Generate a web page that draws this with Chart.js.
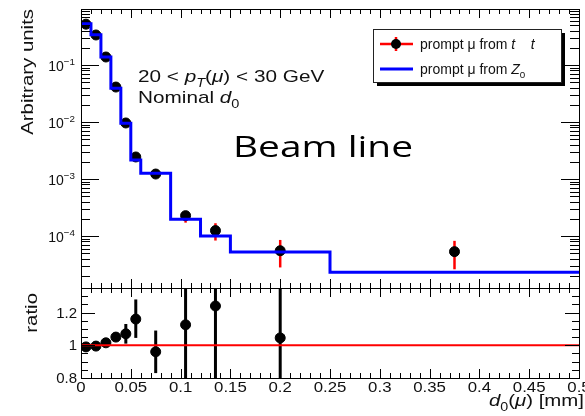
<!DOCTYPE html>
<html>
<head>
<meta charset="utf-8">
<title>d0 prompt muons</title>
<script src="https://cdn.jsdelivr.net/npm/chart.js@4.4.1/dist/chart.umd.min.js"></script>
<style>
  html, body { margin: 0; padding: 0; background: #fff; }
  #wrap { position: relative; width: 585px; height: 416px; }
  #wrap canvas { position: absolute; left: 0; top: 0; }
</style>
</head>
<body>
<div id="wrap">
  <canvas id="topPanel" width="585" height="416"></canvas>
  <canvas id="ratioPanel" width="585" height="416"></canvas>
</div>
<script>
// bins of d0 (mm)
const binEdges = [0, 0.01, 0.02, 0.03, 0.04, 0.05, 0.06, 0.09, 0.12, 0.15, 0.25, 0.5];
const binCenters = [0.005, 0.015, 0.025, 0.035, 0.045, 0.055, 0.075, 0.105, 0.135, 0.2, 0.375];

// prompt mu from Z0 (blue histogram)
const zValues = [0.53, 0.34, 0.138, 0.039, 0.0095, 0.00215, 0.00126, 1.96e-4, 1.0e-4, 5.2e-5, 2.3e-5];

// prompt mu from ttbar (points + red error bars)
const ttValues = [0.52, 0.336, 0.138, 0.041, 0.0096, 0.00243, 0.00122, 2.27e-4, 1.24e-4, 5.5e-5, 5.3e-5];
const ttLow = [0.51, 0.33, 0.135, 0.040, 0.0093, 0.0023, 0.00115, 1.71e-4, 8.3e-5, 2.8e-5, 2.6e-5];
const ttHigh = [0.53, 0.342, 0.141, 0.042, 0.0099, 0.00256, 0.00129, 2.67e-4, 1.67e-4, 8.5e-5, 8.2e-5];

// ratio panel (tt / Z0)
const ratioX = [0.005, 0.015, 0.025, 0.035, 0.045, 0.055, 0.075, 0.105, 0.135, 0.2];
const ratioValues = [0.99, 0.995, 1.015, 1.05, 1.07, 1.16, 0.96, 1.125, 1.24, 1.045];
const ratioLow = [0.98, 0.985, 1.0, 1.035, 1.01, 1.045, 0.83, 0.6, 0.5, 0.4];
const ratioHigh = [1.0, 1.005, 1.03, 1.065, 1.13, 1.28, 1.09, 1.7, 2.0, 1.7];

// tick labels
const xTickValues = [0, 0.05, 0.1, 0.15, 0.2, 0.25, 0.3, 0.35, 0.4, 0.45, 0.5];
const xTickLabels = ['0', '0.05', '0.1', '0.15', '0.2', '0.25', '0.3', '0.35', '0.4', '0.45', '0.5'];
const logTickExps = [-1, -2, -3, -4];
const ratioTickValues = [0.8, 1, 1.2];
const ratioTickLabels = ['0.8', '1', '1.2'];

const FONT = '"Liberation Sans", Arial, Helvetica, sans-serif';

// text with italic / sub / sup pieces, sx stretches along the text
function richText(ctx, parts, x, y, size, opts) {
  opts = opts || {};
  const sx = opts.sx || 1;
  const align = opts.align || 'left';
  const family = opts.family || FONT;
  const fontFor = (st) => {
    let s = size;
    if (st.includes('sub') || st.includes('sup')) s = size * 0.7;
    return (st.startsWith('i') ? 'italic ' : '') + s + 'px ' + family;
  };
  let w = 0;
  parts.forEach(([t, st]) => { ctx.font = fontFor(st); w += ctx.measureText(t).width; });
  ctx.save();
  ctx.translate(x, y);
  if (opts.rotate) ctx.rotate(opts.rotate);
  ctx.scale(sx, 1);
  ctx.fillStyle = opts.color || '#111';
  ctx.textAlign = 'left';
  ctx.textBaseline = 'alphabetic';
  let cx = align === 'right' ? -w : (align === 'center' ? -w / 2 : 0);
  parts.forEach(([t, st]) => {
    ctx.font = fontFor(st);
    const dy = st.includes('sub') ? size * 0.28 : (st.includes('sup') ? -size * 0.42 : 0);
    ctx.fillText(t, cx, dy);
    cx += ctx.measureText(t).width;
  });
  ctx.restore();
}

function seg(ctx, x1, y1, x2, y2) {
  ctx.beginPath();
  ctx.moveTo(x1, y1);
  ctx.lineTo(x2, y2);
  ctx.stroke();
}

// frame + inward ticks on x (both edges)
function drawFrameX(chart) {
  const ctx = chart.ctx, a = chart.chartArea, xs = chart.scales.x;
  ctx.save();
  ctx.strokeStyle = '#000';
  ctx.lineWidth = 1;
  ctx.strokeRect(Math.round(a.left) + 0.5, Math.round(a.top) + 0.5, Math.round(a.right - a.left), Math.round(a.bottom - a.top));
  for (let i = 0; i <= 50; i++) {
    const px = Math.round(xs.getPixelForValue(i / 100)) + 0.5;
    const len = i % 5 === 0 ? 9 : 5;
    seg(ctx, px, a.bottom, px, a.bottom - len);
    seg(ctx, px, a.top, px, a.top + len);
  }
  ctx.restore();
}

function drawErrorBars(chart, xsArr, lo, hi, color, width) {
  const ctx = chart.ctx, a = chart.chartArea, xs = chart.scales.x, ys = chart.scales.y;
  ctx.save();
  ctx.beginPath();
  ctx.rect(a.left, a.top, a.right - a.left, a.bottom - a.top);
  ctx.clip();
  ctx.strokeStyle = color;
  ctx.lineWidth = width;
  xsArr.forEach((xv, i) => {
    const px = xs.getPixelForValue(xv);
    seg(ctx, px, ys.getPixelForValue(lo[i]), px, ys.getPixelForValue(hi[i]));
  });
  ctx.restore();
}

const topDecor = {
  id: 'topDecor',
  beforeDatasetDraw(chart, args) {
    if (args.index === 1) drawErrorBars(chart, binCenters, ttLow, ttHigh, '#ff0000', 2.5);
  },
  afterDraw(chart) {
    const ctx = chart.ctx, a = chart.chartArea, ys = chart.scales.y;
    drawFrameX(chart);
    // log ticks on left and right
    ctx.save();
    ctx.strokeStyle = '#000';
    ctx.lineWidth = 1;
    for (let d = -5; d <= 0; d++) {
      for (let m = 1; m <= 9; m++) {
        const v = m * Math.pow(10, d);
        if (v < ys.min || v > ys.max) continue;
        const py = Math.round(ys.getPixelForValue(v)) + 0.5;
        const len = m === 1 ? 18 : 9;
        seg(ctx, a.left, py, a.left + len, py);
        seg(ctx, a.right, py, a.right - len, py);
      }
    }
    ctx.restore();
    logTickExps.forEach(e => {
      const py = ys.getPixelForValue(Math.pow(10, e));
      richText(ctx, [['10', ''], ['\u2212' + Math.abs(e), 'sup']], 75, py + 6, 14, { align: 'right' });
    });
    // axis title
    richText(ctx, [['Arbitrary units', '']], 33, 9, 17, { rotate: -Math.PI / 2, align: 'right', sx: 1.2 });
    // annotation
    richText(ctx, [['20 < ', ''], ['p', 'i'], ['T', 'isub'], ['(', ''], ['\u03bc', 'i'], [') < 30 GeV', '']], 138, 82, 17, { sx: 1.22 });
    richText(ctx, [['Nominal ', ''], ['d', 'i'], ['0', 'sub']], 138, 103, 17, { sx: 1.22 });
    // big slide label
    ctx.save();
    ctx.font = '30px "Open Sans", "Noto Sans", sans-serif';
    const bw = ctx.measureText('Beam line').width;
    ctx.restore();
    richText(ctx, [['Beam line', '']], 233, 157, 30, { family: '"Open Sans", "Noto Sans", sans-serif', sx: 180 / bw, color: '#000' });
    // legend
    const lx = 373, ly = 29, lw = 188, lh = 53;
    ctx.save();
    ctx.fillStyle = '#000';
    ctx.fillRect(lx + 4, ly + 4, lw, lh);
    ctx.fillStyle = '#fff';
    ctx.fillRect(lx, ly, lw, lh);
    ctx.strokeStyle = '#222';
    ctx.lineWidth = 1;
    ctx.strokeRect(lx + 0.5, ly + 0.5, lw, lh);
    ctx.strokeStyle = '#ff0000';
    ctx.lineWidth = 2.5;
    seg(ctx, 380, 44, 413, 44);
    seg(ctx, 396, 37, 396, 51);
    ctx.fillStyle = '#000';
    ctx.beginPath();
    ctx.arc(396, 44, 5, 0, Math.PI * 2);
    ctx.fill();
    ctx.strokeStyle = '#0000ff';
    ctx.lineWidth = 3;
    seg(ctx, 380, 69, 413, 69);
    ctx.restore();
    richText(ctx, [['prompt ', ''], ['\u03bc', ''], [' from ', ''], ['t', 'i'], ['    ', ''], ['t', 'i']], 420, 49, 14);
    richText(ctx, [['prompt ', ''], ['\u03bc', ''], [' from ', ''], ['Z', 'i'], ['0', 'sub']], 420, 74, 14);
  }
};

const ratioDecor = {
  id: 'ratioDecor',
  beforeDatasetDraw(chart, args) {
    if (args.index === 1) drawErrorBars(chart, ratioX, ratioLow, ratioHigh, '#000', 3);
  },
  afterDraw(chart) {
    const ctx = chart.ctx, a = chart.chartArea, xs = chart.scales.x, ys = chart.scales.y;
    drawFrameX(chart);
    ctx.save();
    ctx.strokeStyle = '#000';
    ctx.lineWidth = 1;
    for (let i = 16; i <= 27; i++) {
      const v = i * 0.05;
      if (v < ys.min - 1e-9 || v > ys.max + 1e-9) continue;
      const py = Math.round(ys.getPixelForValue(v)) + 0.5;
      const len = i % 4 === 0 ? 14 : 7;
      seg(ctx, a.left, py, a.left + len, py);
      seg(ctx, a.right, py, a.right - len, py);
    }
    ctx.restore();
    ratioTickValues.forEach((v, i) => {
      richText(ctx, [[ratioTickLabels[i], '']], 77, ys.getPixelForValue(v) + 5, 15, { align: 'right' });
    });
    xTickValues.forEach((v, i) => {
      richText(ctx, [[xTickLabels[i], '']], xs.getPixelForValue(v), 392, 15, { align: 'center', sx: 1.12 });
    });
    richText(ctx, [['ratio', '']], 37, 293, 17, { rotate: -Math.PI / 2, align: 'right', sx: 1.2 });
    richText(ctx, [['d', 'i'], ['0', 'sub'], ['(', ''], ['\u03bc', 'i'], [') [mm]', '']], 584, 406, 17, { align: 'right', sx: 1.2 });
  }
};

const histPoints = binEdges.map((e, i) => ({ x: e, y: zValues[Math.min(i, zValues.length - 1)] }));
const ttPoints = binCenters.map((x, i) => ({ x: x, y: ttValues[i] }));
const ratioPoints = ratioX.map((x, i) => ({ x: x, y: ratioValues[i] }));

new Chart(document.getElementById('topPanel'), {
  type: 'line',
  data: {
    datasets: [
      { label: 'prompt mu from Z0', data: histPoints, stepped: 'before', borderColor: '#0000ff', borderWidth: 3, pointRadius: 0, fill: false },
      { label: 'prompt mu from ttbar', type: 'scatter', data: ttPoints, backgroundColor: '#000', borderColor: '#000', pointRadius: 5, showLine: false }
    ]
  },
  options: {
    responsive: false,
    animation: false,
    events: [],
    layout: { padding: { left: 81, top: 9, right: 1, bottom: 128 } },
    plugins: { legend: { display: false }, tooltip: { enabled: false } },
    scales: {
      x: { type: 'linear', min: 0, max: 0.5, display: false },
      y: { type: 'logarithmic', min: 1.22e-5, max: 0.96, display: false }
    }
  },
  plugins: [topDecor]
});

new Chart(document.getElementById('ratioPanel'), {
  type: 'line',
  data: {
    datasets: [
      { label: 'unity', data: [{ x: 0, y: 1 }, { x: 0.5, y: 1 }], borderColor: '#ff0000', borderWidth: 2, pointRadius: 0, fill: false },
      { label: 'ratio', type: 'scatter', data: ratioPoints, backgroundColor: '#000', borderColor: '#000', pointRadius: 5, showLine: false }
    ]
  },
  options: {
    responsive: false,
    animation: false,
    events: [],
    layout: { padding: { left: 81, top: 288, right: 1, bottom: 38 } },
    plugins: { legend: { display: false }, tooltip: { enabled: false } },
    scales: {
      x: { type: 'linear', min: 0, max: 0.5, display: false },
      y: { type: 'linear', min: 0.8, max: 1.35, display: false }
    }
  },
  plugins: [ratioDecor]
});
</script>
</body>
</html>
